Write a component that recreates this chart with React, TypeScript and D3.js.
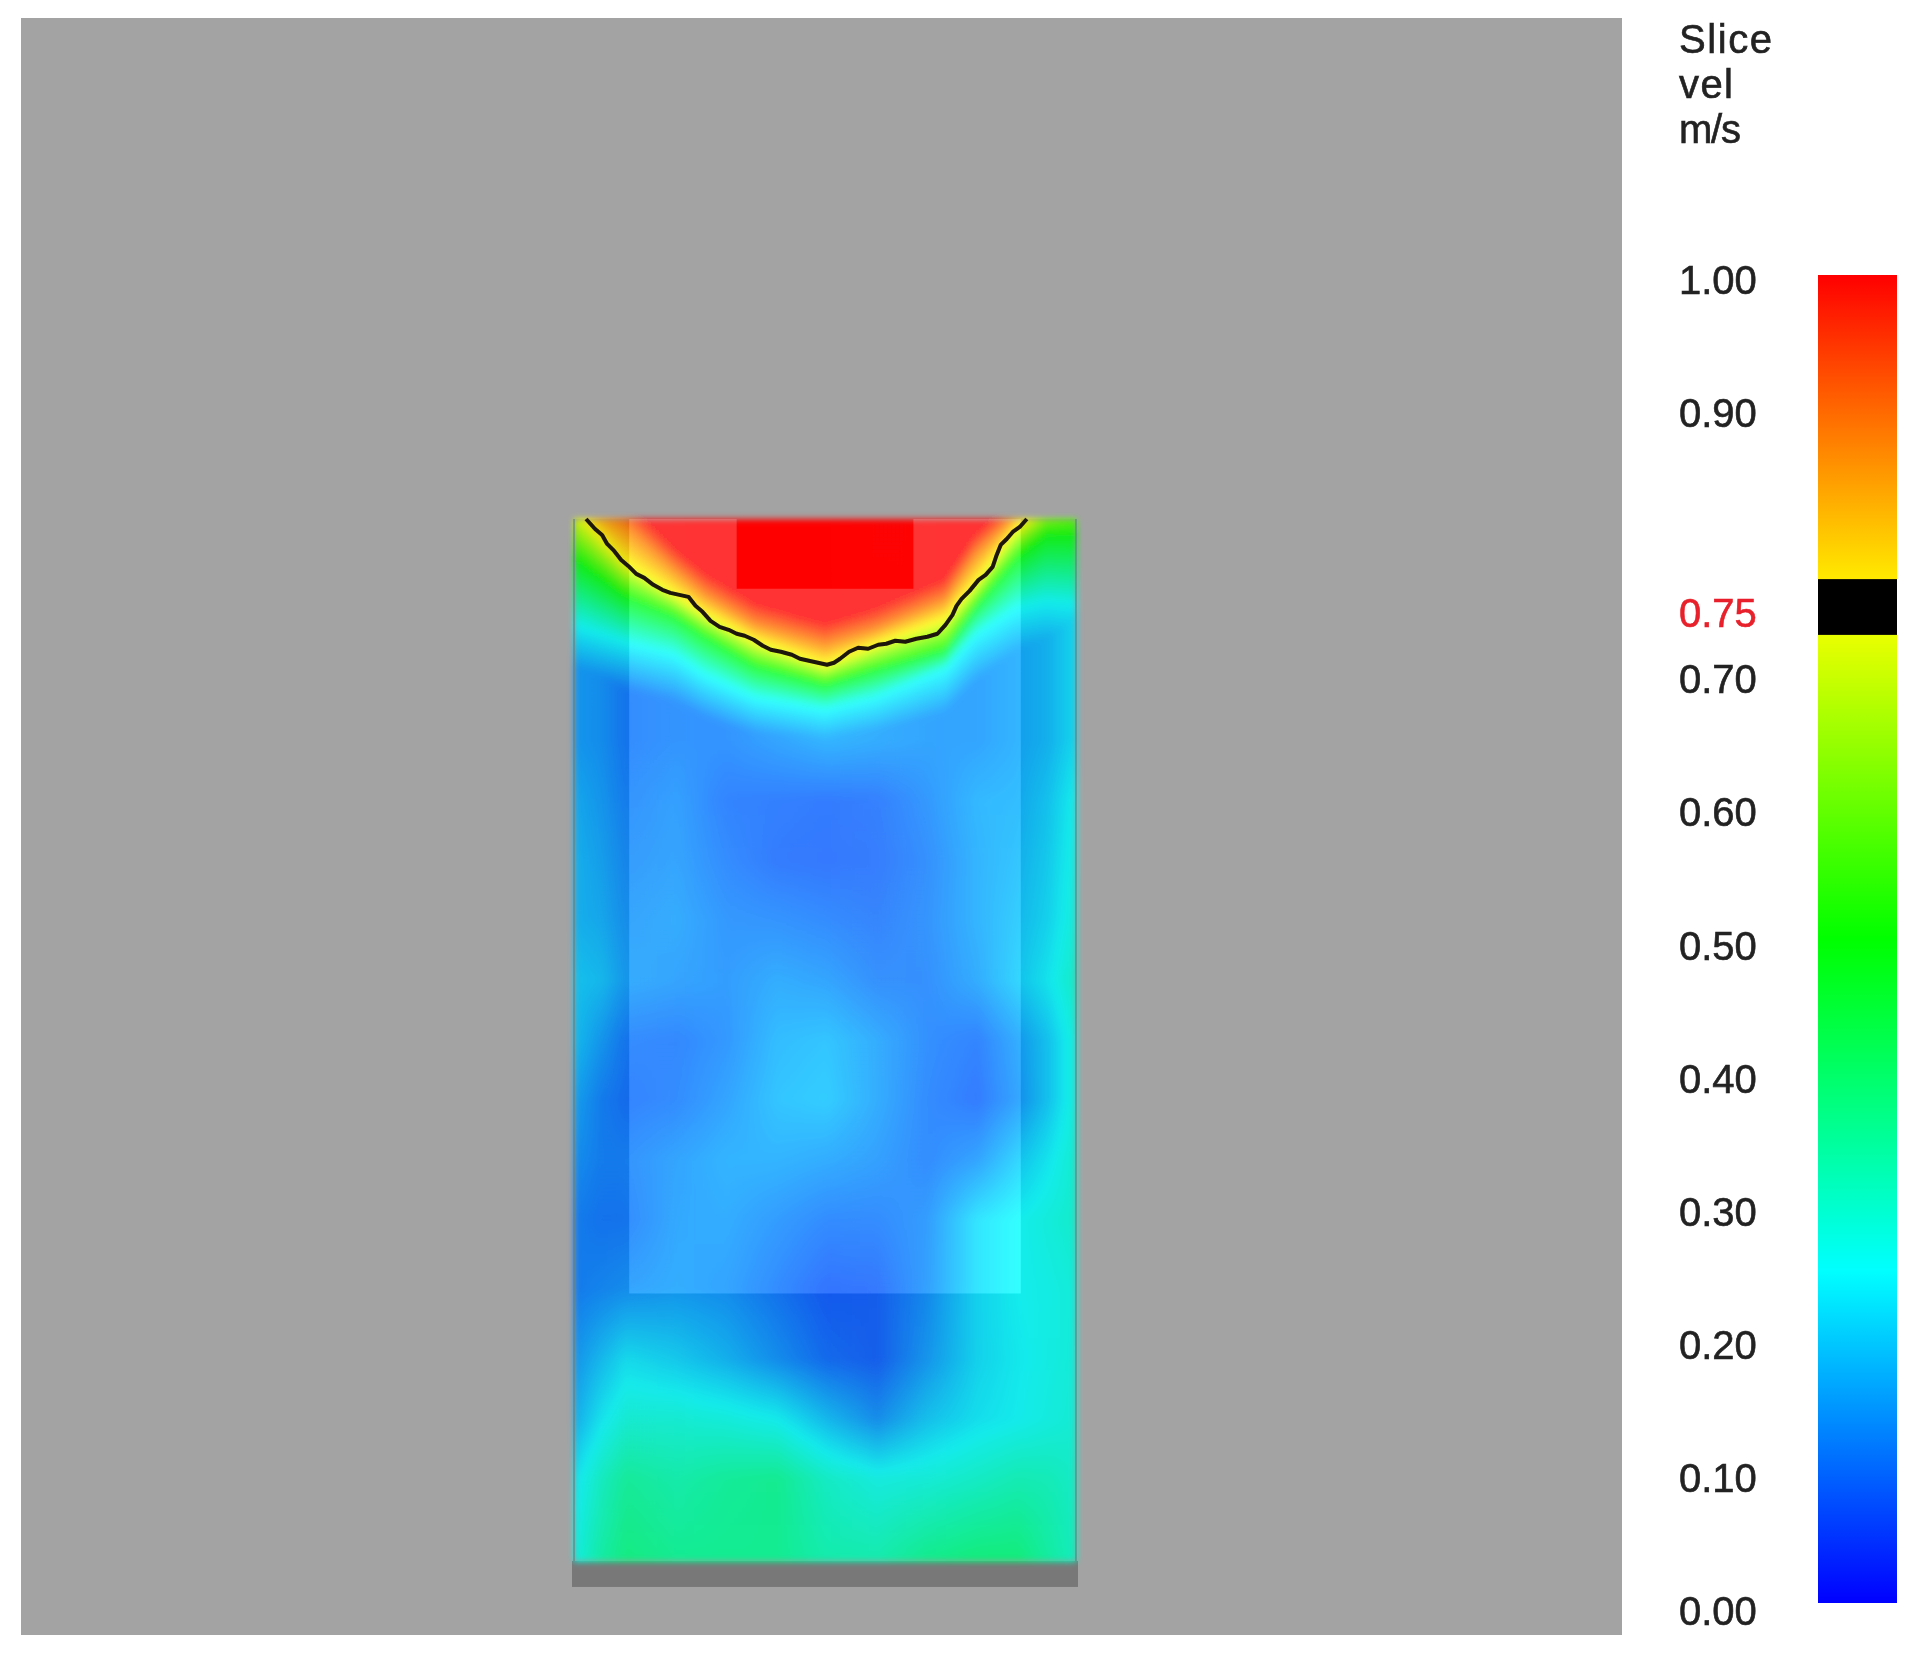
import React, { useMemo } from "react";
import * as d3 from "d3";

const WIDTH = 1923;
const HEIGHT = 1659;

// slice values are in m/s, x and depth are in the slice's own units (0-50 across, 0-104.4 down)
const sliceWidth = 50;
const sliceDepth = 104.4;
const floorDepth = 107;
const innerLeft = 5.5;
const innerRight = 44.5;
const innerBottom = 77.6;
const redLeft = 16.2;
const redRight = 33.8;
const redBottom = 7.0;
const cellSize = 0.4;

const colorStops = [0, 0.25, 0.5, 0.75, 1];
const colorNames = ["#0000ff", "#00ffff", "#00ff00", "#ffff00", "#ff0000"];
const barTicks = ["0.00", "0.10", "0.20", "0.30", "0.40", "0.50", "0.60", "0.70", "0.75", "0.90", "1.00"];
const titleLines = ["Slice", "vel", "m/s"];
const titleLengths = [93, 54, 62];
const threshold = 0.75;
const thresholdLow = 0.729;
const thresholdHigh = 0.771;

// depth of the velocity levels in the hot layer under the ceiling
const levelX = [0, 5, 10, 13, 18, 25, 30, 37, 40, 44, 47, 50];
const levelValues = [1, 0.88, 0.75, 0.5, 0.25, 0.1];
const depth100 = [-4.5, -2, 3, 5.5, 8.5, 10.5, 9, 6, 1.5, -2, -5, -6.5];
const depth88 = [-2.5, 0.5, 5, 7.5, 10.5, 12.5, 11, 8, 3.5, -0.5, -3, -4.5];
const depth75 = [-1, 4.3, 7.5, 9.5, 12.2, 14.6, 12.6, 10, 6.5, 1, -1.5, -3];
const depth50 = [3.9, 7.6, 9.6, 11.6, 14.6, 16.5, 15, 13, 8.6, 3.9, 1.6, 1.6];
const depth25 = [10.6, 12.3, 13.6, 15.6, 17.9, 19.1, 17.9, 15, 11.6, 9, 8.3, 8.6];
const depth10 = [17, 17.5, 19, 20.5, 22.5, 24, 23, 21, 18, 16, 16, 17];

// 0.75 m/s contour
const contourX = [1.2, 2.1, 2.8, 3.3, 4.0, 4.7, 5.4, 6.2, 7.0, 7.9, 8.8, 9.6, 10.5, 11.4, 12.1, 12.8, 13.6, 14.5, 15.4, 16.2, 17.0, 17.9, 18.8, 19.6, 20.6, 21.7, 22.5, 23.4, 24.3, 25.2, 25.9, 26.5, 27.4, 28.3, 29.3, 30.3, 31.1, 32.0, 33.0, 34.1, 35.2, 36.2, 37.0, 37.7, 38.1, 38.6, 39.4, 40.3, 41.0, 41.7, 42.1, 42.5, 43.1, 43.7, 44.4, 45.1];
const contourDepth = [0, 1.0, 1.6, 2.5, 3.2, 4.1, 4.7, 5.5, 5.9, 6.6, 7.1, 7.4, 7.6, 7.8, 8.7, 9.3, 10.2, 10.8, 11.1, 11.5, 11.7, 12.1, 12.7, 13.1, 13.3, 13.6, 14.0, 14.2, 14.4, 14.6, 14.4, 14.0, 13.3, 12.9, 13.0, 12.6, 12.5, 12.2, 12.3, 12.0, 11.8, 11.5, 10.6, 9.6, 8.7, 8.0, 7.2, 6.1, 5.6, 4.8, 3.6, 2.6, 2.0, 1.3, 0.8, 0];

const gridX = [0, 2.5, 5, 10, 15, 20, 25, 30, 35, 40, 44, 47, 50];
const gridDepth = [22, 28, 34, 40, 46, 52, 58, 64, 70, 77, 84, 90, 96, 104.5];
const row22 = [0.15, 0.14, 0.11, 0.12, 0.12, 0.14, 0.16, 0.15, 0.14, 0.14, 0.16, 0.18, 0.23];
const row28 = [0.17, 0.15, 0.12, 0.135, 0.1, 0.095, 0.09, 0.095, 0.125, 0.165, 0.17, 0.2, 0.26];
const row34 = [0.18, 0.16, 0.13, 0.14, 0.11, 0.09, 0.085, 0.09, 0.115, 0.16, 0.18, 0.21, 0.27];
const row40 = [0.18, 0.17, 0.14, 0.15, 0.125, 0.12, 0.11, 0.1, 0.12, 0.16, 0.19, 0.22, 0.28];
const row46 = [0.2, 0.19, 0.15, 0.14, 0.13, 0.15, 0.14, 0.115, 0.115, 0.15, 0.2, 0.24, 0.3];
const row52 = [0.19, 0.15, 0.11, 0.105, 0.125, 0.17, 0.18, 0.15, 0.115, 0.1, 0.15, 0.2, 0.28];
const row58 = [0.16, 0.12, 0.1, 0.11, 0.14, 0.18, 0.19, 0.15, 0.11, 0.09, 0.14, 0.2, 0.28];
const row64 = [0.14, 0.12, 0.12, 0.14, 0.16, 0.16, 0.15, 0.135, 0.11, 0.14, 0.2, 0.24, 0.29];
const row70 = [0.12, 0.11, 0.11, 0.145, 0.15, 0.13, 0.11, 0.11, 0.13, 0.22, 0.25, 0.27, 0.29];
const row77 = [0.12, 0.13, 0.14, 0.15, 0.14, 0.11, 0.08, 0.085, 0.135, 0.22, 0.25, 0.26, 0.275];
const row84 = [0.15, 0.19, 0.23, 0.21, 0.18, 0.14, 0.1, 0.085, 0.15, 0.22, 0.245, 0.26, 0.275];
const row90 = [0.18, 0.24, 0.28, 0.28, 0.27, 0.25, 0.19, 0.14, 0.2, 0.235, 0.25, 0.265, 0.28];
const row96 = [0.24, 0.3, 0.345, 0.325, 0.345, 0.355, 0.295, 0.265, 0.275, 0.295, 0.315, 0.31, 0.29];
const row104 = [0.27, 0.335, 0.375, 0.355, 0.355, 0.355, 0.325, 0.325, 0.365, 0.385, 0.385, 0.34, 0.3];
const gridRows = [row22, row28, row34, row40, row46, row52, row58, row64, row70, row77, row84, row90, row96, row104];

const xScale = d3.scaleLinear().domain([0, sliceWidth]).range([574, 1076]);
const yScale = d3.scaleLinear().domain([0, sliceDepth]).range([519, 1561]);
const barScale = d3.scaleLinear().domain([0, 1]).range([1603, 275]);
const labelScale = d3.scaleLinear().domain([0, 1]).range([1611, 280]);
const colorScale = d3.scaleLinear<string>().domain(colorStops).range(colorNames).clamp(true);

const gridColumn = d3.scaleLinear().domain(gridX).range(d3.range(gridX.length)).clamp(true);
const gridRow = d3.scaleLinear().domain(gridDepth).range(d3.range(gridDepth.length)).clamp(true);

function gridValue(x: number, depth: number) {
  const cx = gridColumn(x);
  const cy = gridRow(depth);
  const x0 = Math.min(Math.floor(cx), gridX.length - 2);
  const y0 = Math.min(Math.floor(cy), gridDepth.length - 2);
  const top = d3.interpolateNumber(gridRows[y0][x0], gridRows[y0][x0 + 1])(cx - x0);
  const bottom = d3.interpolateNumber(gridRows[y0 + 1][x0], gridRows[y0 + 1][x0 + 1])(cx - x0);
  return d3.interpolateNumber(top, bottom)(cy - y0);
}

const levelArrays = [depth100, depth88, depth75, depth50, depth25, depth10];
const levelScales = levelArrays.map((arr) => d3.scaleLinear().domain(levelX).range(arr));

function buildCells() {
  const cells: { x: number; d: number; fill: string }[] = [];
  for (const x of d3.range(0, sliceWidth, cellSize)) {
    const depths = levelScales.map((s) => s(x + cellSize / 2));
    const band = d3.scaleLinear().domain(depths).range(levelValues).clamp(true);
    for (const d of d3.range(0, sliceDepth, cellSize)) {
      const v = d <= depths[5] ? Math.max(band(d + cellSize / 2), gridValue(x, d)) : gridValue(x, d);
      cells.push({ x, d, fill: colorScale(v) });
    }
  }
  return cells;
}

function rectPath(x0: number, d0: number, x1: number, d1: number) {
  return `M${xScale(x0)},${yScale(d0)}H${xScale(x1)}V${yScale(d1)}H${xScale(x0)}Z`;
}

export default function App() {
  const cells = useMemo(buildCells, []);
  const cellW = xScale(cellSize) - xScale(0);
  const cellH = yScale(cellSize) - yScale(0);
  const contour = d3.line<number>()
    .x((d) => xScale(d))
    .y((_, i) => yScale(contourDepth[i]))(contourX) as string;
  const outerPath = rectPath(0, 0, sliceWidth, sliceDepth) + rectPath(innerLeft, 0, innerRight, innerBottom);
  const innerPath = rectPath(innerLeft, 0, innerRight, innerBottom) + rectPath(redLeft, 0, redRight, redBottom);
  const titleY = d3.scaleLinear().domain([0, 2]).range([53, 143]);

  return (
    <svg
      width={WIDTH}
      height={HEIGHT}
      style={{ position: "absolute", left: 0, top: 0, background: "#fff" }}
      fontFamily="'Liberation Sans', Arial, sans-serif"
    >
      <defs>
        <filter id="soft" x="-5%" y="-5%" width="110%" height="110%">
          <feGaussianBlur stdDeviation="3" />
        </filter>
        <filter id="softText" x="-10%" y="-10%" width="120%" height="120%">
          <feGaussianBlur stdDeviation="0.7" />
        </filter>
        <linearGradient id="barGradient" x1="0" x2="0" y1="1" y2="0">
          {colorStops.map((s, i) => (
            <stop key={s} offset={s} stopColor={colorNames[i]} />
          ))}
        </linearGradient>
      </defs>

      <rect x={21} y={18} width={1601} height={1617} fill="#a3a3a3" />

      <rect
        x={xScale(0) - 2}
        y={yScale(sliceDepth)}
        width={xScale(sliceWidth) - xScale(0) + 4}
        height={yScale(floorDepth) - yScale(sliceDepth)}
        fill="#787878"
      />

      <g filter="url(#soft)">
        {cells.map((c, i) => (
          <rect key={i} x={xScale(c.x)} y={yScale(c.d)} width={cellW + 0.5} height={cellH + 0.5} fill={c.fill} />
        ))}
      </g>

      <path d={outerPath} fillRule="evenodd" fill="#808080" fillOpacity={0.15} />
      <path d={innerPath} fillRule="evenodd" fill="#ffffff" fillOpacity={0.2} />

      <path d={contour} fill="none" stroke="#1e1608" strokeWidth={4} strokeLinejoin="round" filter="url(#softText)" />

      <line x1={xScale(0)} x2={xScale(0)} y1={yScale(0)} y2={yScale(sliceDepth)} stroke="#5f8080" strokeWidth={2} opacity={0.6} />
      <line x1={xScale(sliceWidth)} x2={xScale(sliceWidth)} y1={yScale(0)} y2={yScale(sliceDepth)} stroke="#5f8080" strokeWidth={2} opacity={0.6} />

      <rect x={1818} y={barScale(1)} width={79} height={barScale(0) - barScale(1)} fill="url(#barGradient)" />
      <rect x={1818} y={barScale(thresholdHigh)} width={79} height={barScale(thresholdLow) - barScale(thresholdHigh)} fill="#000" />

      <g filter="url(#softText)" fontSize={40} fill="#222" stroke="#222" strokeWidth={0.6}>
        {titleLines.map((t, i) => (
          <text key={t} x={1679} y={titleY(i)} textLength={titleLengths[i]} lengthAdjust="spacing">
            {t}
          </text>
        ))}
        {barTicks.map((t) => (
          <text
            key={t}
            x={1679}
            y={labelScale(+t) + 14}
            fill={+t === threshold ? "#e8202a" : "#222"}
            stroke={+t === threshold ? "#e8202a" : "#222"}
          >
            {t}
          </text>
        ))}
      </g>
    </svg>
  );
}
